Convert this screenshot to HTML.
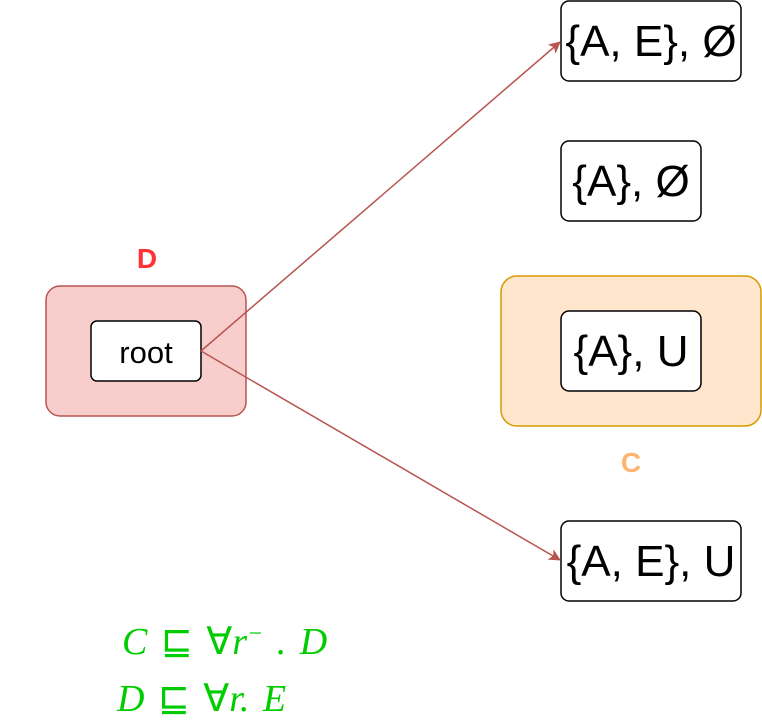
<!DOCTYPE html>
<html><head><meta charset="utf-8"><style>
html,body{margin:0;padding:0;background:#fff;width:762px;height:722px;overflow:hidden}
</style></head><body>
<svg width="762" height="722" xmlns="http://www.w3.org/2000/svg" font-family="Liberation Sans, sans-serif">
<defs><marker id="a" markerWidth="12" markerHeight="12" refX="11" refY="6" orient="auto" markerUnits="userSpaceOnUse"><path d="M0,0 L12,6 L0,12 L3,6 z" fill="#b85450"/></marker></defs>
<rect x="46" y="286" width="200" height="130" rx="14" fill="#f8cecc" stroke="#b85450" stroke-width="1.5"/>
<rect x="501" y="276" width="260" height="150" rx="16" fill="#ffe6cc" stroke="#d79b00" stroke-width="1.5"/>
<rect x="91" y="321" width="110" height="60" rx="6" fill="#fff" stroke="#000" stroke-width="1.5"/>
<text x="146" y="363" font-size="31" text-anchor="middle">root</text>
<rect x="561" y="1" width="180" height="80" rx="8" fill="#fff" stroke="#000" stroke-width="1.5"/>
<text x="651" y="56" font-size="44" text-anchor="middle">{A, E}, Ø</text>
<rect x="561" y="141" width="140" height="80" rx="8" fill="#fff" stroke="#000" stroke-width="1.5"/>
<text x="631" y="196" font-size="44" text-anchor="middle">{A}, Ø</text>
<rect x="561" y="311" width="140" height="80" rx="8" fill="#fff" stroke="#000" stroke-width="1.5"/>
<text x="631" y="366" font-size="44" text-anchor="middle">{A}, U</text>
<rect x="561" y="521" width="180" height="80" rx="8" fill="#fff" stroke="#000" stroke-width="1.5"/>
<text x="651" y="576" font-size="44" text-anchor="middle">{A, E}, U</text>
<text x="147" y="268" font-size="28" font-weight="bold" fill="#ff3333" text-anchor="middle">D</text>
<text x="631" y="472" font-size="28" font-weight="bold" fill="#ffb570" text-anchor="middle">C</text>
<line x1="201" y1="351" x2="560" y2="42" stroke="#b85450" stroke-width="1.5" marker-end="url(#a)"/>
<line x1="201" y1="351" x2="560" y2="560" stroke="#b85450" stroke-width="1.5" marker-end="url(#a)"/>
<text x="122" y="654" font-size="38" fill="#00cc00" font-family="Liberation Serif, serif" font-style="italic" word-spacing="4">C <tspan font-style="normal">⊑ ∀</tspan>r<tspan font-size="24" dy="-13">−</tspan><tspan dy="13"> . D</tspan></text>
<text x="117" y="711" font-size="38" fill="#00cc00" font-family="Liberation Serif, serif" font-style="italic" word-spacing="4">D <tspan font-style="normal">⊑ ∀</tspan>r. E</text>
</svg>
</body></html>
